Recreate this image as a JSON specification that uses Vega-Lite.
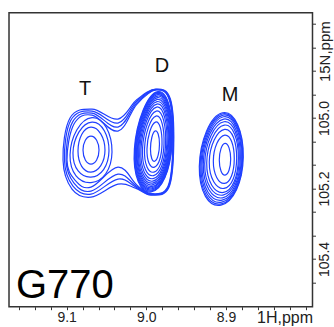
{
  "$schema": "https://vega.github.io/schema/vega-lite/v6.json",
  "autosize": "none",
  "padding": {"left": 9, "top": 12.7, "right": 21, "bottom": 20},
  "width": 303.5,
  "height": 294,
  "background": "white",
  "config": {
    "view": {"stroke": "#333", "strokeWidth": 1.5},
    "axis": {"labelOverlap": false, "labelFlush": false, "labelBound": false}
  },
  "datasets": {
    "closed": [
      {"c":"t1","o":1,"H":9.0695,"N":105.0512},{"c":"t1","o":2,"H":9.0594,"N":105.0910},{"c":"t1","o":3,"H":9.0695,"N":105.1308},{"c":"t1","o":4,"H":9.0795,"N":105.0910},
      {"c":"t2","o":1,"H":9.0695,"N":105.0257},{"c":"t2","o":2,"H":9.0519,"N":105.0910},{"c":"t2","o":3,"H":9.0695,"N":105.1535},{"c":"t2","o":4,"H":9.0858,"N":105.0938},
      {"c":"t3","o":1,"H":9.0682,"N":105.0115},{"c":"t3","o":2,"H":9.0469,"N":105.0938},{"c":"t3","o":3,"H":9.0695,"N":105.1677},{"c":"t3","o":4,"H":9.0921,"N":105.0995},
      {"c":"t4","o":1,"H":9.0682,"N":104.9987},{"c":"t4","o":2,"H":9.0431,"N":105.0967},{"c":"t4","o":3,"H":9.0695,"N":105.1833},{"c":"t4","o":4,"H":9.0958,"N":105.1052},
      {"c":"d1","o":1,"H":8.9891,"N":105.0370},{"c":"d1","o":2,"H":8.9835,"N":105.0740},{"c":"d1","o":3,"H":8.9891,"N":105.1222},{"c":"d1","o":4,"H":8.9948,"N":105.0882},
      {"c":"d2","o":1,"H":8.9885,"N":105.0115},{"c":"d2","o":2,"H":8.9803,"N":105.0740},{"c":"d2","o":3,"H":8.9898,"N":105.1393},{"c":"d2","o":4,"H":8.9992,"N":105.0882},
      {"c":"d3","o":1,"H":8.9879,"N":104.9944},{"c":"d3","o":2,"H":8.9778,"N":105.0740},{"c":"d3","o":3,"H":8.9904,"N":105.1535},{"c":"d3","o":4,"H":9.0023,"N":105.0882},
      {"c":"d4","o":1,"H":8.9875,"N":104.9802},{"c":"d4","o":2,"H":8.9758,"N":105.0740},{"c":"d4","o":3,"H":8.9909,"N":105.1634},{"c":"d4","o":4,"H":9.0048,"N":105.0882},
      {"c":"d5","o":1,"H":8.9871,"N":104.9688},{"c":"d5","o":2,"H":8.9743,"N":105.0740},{"c":"d5","o":3,"H":8.9914,"N":105.1720},{"c":"d5","o":4,"H":9.0067,"N":105.0882},
      {"c":"d6","o":1,"H":8.9867,"N":104.9603},{"c":"d6","o":2,"H":8.9731,"N":105.0740},{"c":"d6","o":3,"H":8.9918,"N":105.1791},{"c":"d6","o":4,"H":9.0082,"N":105.0882},
      {"c":"d7","o":1,"H":8.9865,"N":104.9532},{"c":"d7","o":2,"H":8.9721,"N":105.0740},{"c":"d7","o":3,"H":8.9921,"N":105.1847},{"c":"d7","o":4,"H":9.0095,"N":105.0882},
      {"c":"d8","o":1,"H":8.9862,"N":104.9470},{"c":"d8","o":2,"H":8.9712,"N":105.0740},{"c":"d8","o":3,"H":8.9924,"N":105.1899},{"c":"d8","o":4,"H":9.0105,"N":105.0882},
      {"c":"d9","o":1,"H":8.9860,"N":104.9419},{"c":"d9","o":2,"H":8.9704,"N":105.0740},{"c":"d9","o":3,"H":8.9926,"N":105.1941},{"c":"d9","o":4,"H":9.0113,"N":105.0882},
      {"c":"d10","o":1,"H":8.9859,"N":104.9376},{"c":"d10","o":2,"H":8.9698,"N":105.0740},{"c":"d10","o":3,"H":8.9929,"N":105.1978},{"c":"d10","o":4,"H":9.0122,"N":105.0882},
      {"c":"d11","o":1,"H":8.9857,"N":104.9336},{"c":"d11","o":2,"H":8.9692,"N":105.0740},{"c":"d11","o":3,"H":8.9931,"N":105.2012},{"c":"d11","o":4,"H":9.0130,"N":105.0882},
      {"c":"d12","o":1,"H":8.9856,"N":104.9302},{"c":"d12","o":2,"H":8.9687,"N":105.0740},{"c":"d12","o":3,"H":8.9934,"N":105.2044},{"c":"d12","o":4,"H":9.0137,"N":105.0882},
      {"c":"d13","o":1,"H":8.9855,"N":104.9274},{"c":"d13","o":2,"H":8.9682,"N":105.0740},{"c":"d13","o":3,"H":8.9936,"N":105.2072},{"c":"d13","o":4,"H":9.0144,"N":105.0882},
      {"c":"d14","o":1,"H":8.9854,"N":104.9248},{"c":"d14","o":2,"H":8.9677,"N":105.0740},{"c":"d14","o":3,"H":8.9939,"N":105.2098},{"c":"d14","o":4,"H":9.0150,"N":105.0882},
      {"c":"k1","o":1,"H":8.9012,"N":105.0720},{"c":"k1","o":2,"H":8.8941,"N":105.1166},{"c":"k1","o":3,"H":8.9012,"N":105.1620},{"c":"k1","o":4,"H":8.9084,"N":105.1194},
      {"c":"k2","o":1,"H":8.9015,"N":105.0484},{"c":"k2","o":2,"H":8.8896,"N":105.1160},{"c":"k2","o":3,"H":8.9019,"N":105.1856},{"c":"k2","o":4,"H":8.9159,"N":105.1222},
      {"c":"k3","o":1,"H":8.9017,"N":105.0322},{"c":"k3","o":2,"H":8.8866,"N":105.1151},{"c":"k3","o":3,"H":8.9025,"N":105.1998},{"c":"k3","o":4,"H":8.9210,"N":105.1251},
      {"c":"k4","o":1,"H":8.9021,"N":105.0200},{"c":"k4","o":2,"H":8.8845,"N":105.1143},{"c":"k4","o":3,"H":8.9031,"N":105.2112},{"c":"k4","o":4,"H":8.9242,"N":105.1279},
      {"c":"k5","o":1,"H":8.9025,"N":105.0106},{"c":"k5","o":2,"H":8.8833,"N":105.1137},{"c":"k5","o":3,"H":8.9038,"N":105.2188},{"c":"k5","o":4,"H":8.9267,"N":105.1294},
      {"c":"k6","o":1,"H":8.9029,"N":105.0029},{"c":"k6","o":2,"H":8.8820,"N":105.1132},{"c":"k6","o":3,"H":8.9043,"N":105.2265},{"c":"k6","o":4,"H":8.9285,"N":105.1308},
      {"c":"k7","o":1,"H":8.9032,"N":104.9964},{"c":"k7","o":2,"H":8.8808,"N":105.1123},{"c":"k7","o":3,"H":8.9048,"N":105.2330},{"c":"k7","o":4,"H":8.9301,"N":105.1336},
      {"c":"k8","o":1,"H":8.9036,"N":104.9916},{"c":"k8","o":2,"H":8.8799,"N":105.1117},{"c":"k8","o":3,"H":8.9053,"N":105.2387},{"c":"k8","o":4,"H":8.9314,"N":105.1350},
      {"c":"k9","o":1,"H":8.9040,"N":104.9879},{"c":"k9","o":2,"H":8.8790,"N":105.1112},{"c":"k9","o":3,"H":8.9058,"N":105.2436},{"c":"k9","o":4,"H":8.9326,"N":105.1365},
      {"c":"k10","o":1,"H":8.9044,"N":104.9850},{"c":"k10","o":2,"H":8.8783,"N":105.1109},{"c":"k10","o":3,"H":8.9063,"N":105.2472},{"c":"k10","o":4,"H":8.9335,"N":105.1379}
    ],
    "merged": [
      {"c":"w1","o":1,"H":9.0682,"N":104.9916},{"c":"w1","o":2,"H":9.0356,"N":105.0370},{"c":"w1","o":3,"H":9.0117,"N":104.9603},{"c":"w1","o":4,"H":8.9879,"N":104.9205},{"c":"w1","o":5,"H":8.9709,"N":104.9504},{"c":"w1","o":6,"H":8.9668,"N":105.0768},{"c":"w1","o":7,"H":8.9728,"N":105.1933},{"c":"w1","o":8,"H":8.9941,"N":105.2146},{"c":"w1","o":9,"H":9.0117,"N":105.1904},{"c":"w1","o":10,"H":9.0356,"N":105.1393},{"c":"w1","o":11,"H":9.0695,"N":105.1961},{"c":"w1","o":12,"H":9.0896,"N":105.1762},{"c":"w1","o":13,"H":9.0996,"N":105.1194},{"c":"w1","o":14,"H":9.0908,"N":105.0171},
      {"c":"w2","o":1,"H":9.0682,"N":104.9859},{"c":"w2","o":2,"H":9.0356,"N":105.0257},{"c":"w2","o":3,"H":9.0117,"N":104.9561},{"c":"w2","o":4,"H":8.9879,"N":104.9194},{"c":"w2","o":5,"H":8.9705,"N":104.9490},{"c":"w2","o":6,"H":8.9664,"N":105.0768},{"c":"w2","o":7,"H":8.9724,"N":105.1947},{"c":"w2","o":8,"H":8.9941,"N":105.2160},{"c":"w2","o":9,"H":9.0124,"N":105.1933},{"c":"w2","o":10,"H":9.0356,"N":105.1592},{"c":"w2","o":11,"H":9.0695,"N":105.2075},{"c":"w2","o":12,"H":9.0908,"N":105.1847},{"c":"w2","o":13,"H":9.1008,"N":105.1194},{"c":"w2","o":14,"H":9.0927,"N":105.0115},
      {"c":"w3","o":1,"H":9.0682,"N":104.9802},{"c":"w3","o":2,"H":9.0356,"N":105.0143},{"c":"w3","o":3,"H":9.0117,"N":104.9518},{"c":"w3","o":4,"H":8.9879,"N":104.9186},{"c":"w3","o":5,"H":8.9702,"N":104.9475},{"c":"w3","o":6,"H":8.9660,"N":105.0768},{"c":"w3","o":7,"H":8.9721,"N":105.1961},{"c":"w3","o":8,"H":8.9941,"N":105.2174},{"c":"w3","o":9,"H":9.0130,"N":105.1961},{"c":"w3","o":10,"H":9.0356,"N":105.1734},{"c":"w3","o":11,"H":9.0695,"N":105.2160},{"c":"w3","o":12,"H":9.0921,"N":105.1933},{"c":"w3","o":13,"H":9.1028,"N":105.1194},{"c":"w3","o":14,"H":9.0946,"N":105.0058},
      {"c":"w4","o":1,"H":9.0682,"N":104.9745},{"c":"w4","o":2,"H":9.0356,"N":105.0029},{"c":"w4","o":3,"H":9.0117,"N":104.9475},{"c":"w4","o":4,"H":8.9879,"N":104.9177},{"c":"w4","o":5,"H":8.9698,"N":104.9461},{"c":"w4","o":6,"H":8.9656,"N":105.0768},{"c":"w4","o":7,"H":8.9717,"N":105.1975},{"c":"w4","o":8,"H":8.9941,"N":105.2188},{"c":"w4","o":9,"H":9.0136,"N":105.1990},{"c":"w4","o":10,"H":9.0356,"N":105.1876},{"c":"w4","o":11,"H":9.0695,"N":105.2245},{"c":"w4","o":12,"H":9.0933,"N":105.2018},{"c":"w4","o":13,"H":9.1046,"N":105.1194},{"c":"w4","o":14,"H":9.0958,"N":105.0001}
    ],
    "peaks": [
      {"t":"T","H":9.0770,"N":104.9348},
      {"t":"D","H":8.9803,"N":104.8694},
      {"t":"M","H":8.8950,"N":104.9509}
    ],
    "name": [
      {"t":"G770","H":9.1636,"N":105.5115}
    ]
  },
  "encoding": {
    "x": {
      "field": "H", "type": "quantitative",
      "scale": {"domain": [9.1724, 8.7914], "nice": false, "zero": false},
      "axis": {
        "values": [9.16, 9.14, 9.12, 9.1, 9.08, 9.06, 9.04, 9.02, 9.0, 8.98, 8.96, 8.94, 8.92, 8.9, 8.88, 8.86, 8.84, 8.82, 8.8],
        "labelExpr": "(abs(datum.value - 9.1) < 0.001 || abs(datum.value - 9) < 0.001 || abs(datum.value - 8.9) < 0.001) ? format(datum.value, '.1f') : ''",
        "labelOverlap": false, "labelFlush": false, "labelBound": false,
        "domain": false, "grid": false,
        "tickSize": 3, "tickColor": "#333", "tickWidth": 1,
        "labelFont": "Liberation Sans", "labelFontSize": 14, "labelColor": "#222", "labelPadding": 1,
        "title": "1H,ppm", "titleFont": "Liberation Sans", "titleFontSize": 16, "titleFontWeight": "normal", "titleColor": "#222",
        "titleX": 303.5, "titleY": 16, "titleAlign": "right", "titleBaseline": "alphabetic", "titleAngle": 0
      }
    },
    "y": {
      "field": "N", "type": "quantitative",
      "scale": {"domain": [104.701, 105.5355], "nice": false, "zero": false, "reverse": true},
      "axis": {
        "orient": "right",
        "values": [104.7333, 104.8, 104.8667, 104.9333, 105.0, 105.0667, 105.1333, 105.2, 105.2667, 105.3333, 105.4, 105.4667],
        "labelExpr": "(abs(datum.value - 105) < 0.001 || abs(datum.value - 105.2) < 0.001 || abs(datum.value - 105.4) < 0.001) ? format(datum.value, '.1f') : ''",
        "labelOverlap": false, "labelFlush": false, "labelBound": false,
        "domain": false, "grid": false,
        "tickSize": 3, "tickColor": "#333", "tickWidth": 1,
        "labelFont": "Liberation Sans", "labelFontSize": 14, "labelColor": "#222",
        "labelAngle": 270, "labelAlign": "center", "labelBaseline": "middle", "labelPadding": 9,
        "title": "15N,ppm", "titleFont": "Liberation Sans", "titleFontSize": 15, "titleFontWeight": "normal", "titleColor": "#222",
        "titleAngle": 270, "titleX": 12.5, "titleY": 38.5, "titleAlign": "center", "titleBaseline": "middle"
      }
    }
  },
  "layer": [
    {
      "data": {"name": "closed"},
      "mark": {"type": "line", "interpolate": "cardinal-closed", "tension": -0.65, "color": "#2040ff", "strokeWidth": 1.2, "clip": true},
      "encoding": {
        "detail": {"field": "c", "type": "nominal"},
        "order": {"field": "o", "type": "quantitative"}
      }
    },
    {
      "data": {"name": "merged"},
      "mark": {"type": "line", "interpolate": "cardinal-closed", "tension": -0.1, "color": "#2040ff", "strokeWidth": 1.2, "clip": true},
      "encoding": {
        "detail": {"field": "c", "type": "nominal"},
        "order": {"field": "o", "type": "quantitative"}
      }
    },
    {
      "data": {"name": "peaks"},
      "mark": {"type": "text", "font": "Liberation Sans", "fontSize": 20, "align": "center", "baseline": "alphabetic", "color": "#111"},
      "encoding": {
        "text": {"field": "t", "type": "nominal"}
      }
    },
    {
      "data": {"name": "name"},
      "mark": {"type": "text", "font": "Liberation Sans", "fontSize": 40, "align": "left", "baseline": "alphabetic", "color": "#000"},
      "encoding": {
        "text": {"field": "t", "type": "nominal"}
      }
    }
  ]
}
